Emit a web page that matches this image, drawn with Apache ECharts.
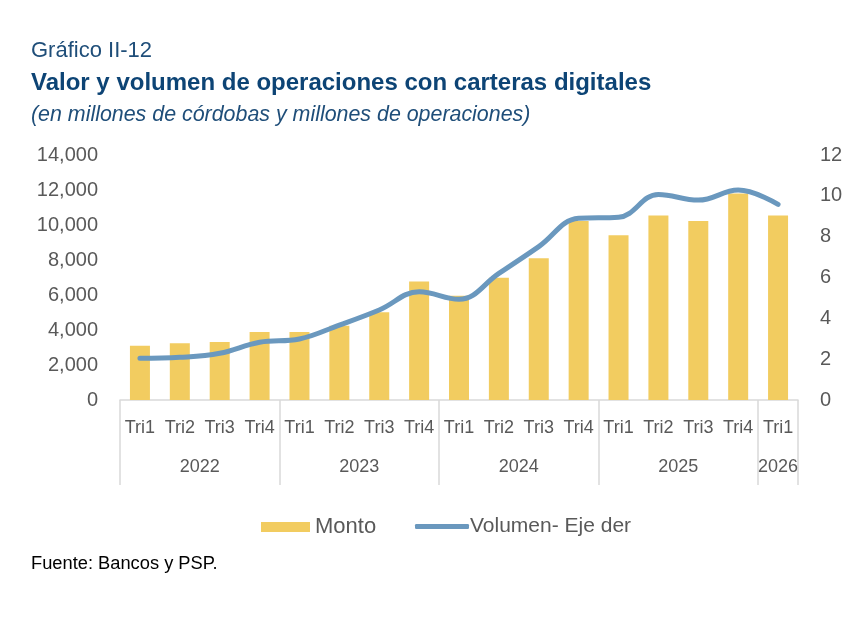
<!DOCTYPE html>
<html lang="es">
<head>
<meta charset="UTF-8">
<title>Valor y volumen de operaciones con carteras digitales</title>
<script src="https://cdn.jsdelivr.net/npm/echarts@6/dist/echarts.min.js"></script>
</head>
<body style="margin:0;background:#ffffff;">
<div id="main" style="width:862px;height:618px;"></div>
<script>
var quarters = ['Tri1','Tri2','Tri3','Tri4','Tri1','Tri2','Tri3','Tri4','Tri1','Tri2','Tri3','Tri4','Tri1','Tri2','Tri3','Tri4','Tri1'];
var years = ['2022','2023','2024','2025','2026'];
var quartersPerYear = [4, 4, 4, 4, 1];
// Monto: millones de córdobas (eje izquierdo)
var monto = [3100, 3250, 3320, 3880, 3880, 4250, 5020, 6770, 5960, 6980, 8100, 10230, 9420, 10540, 10230, 11800, 10540];
// Volumen: millones de operaciones (eje derecho)
var volumen = [2.04, 2.09, 2.29, 2.83, 2.99, 3.67, 4.41, 5.30, 4.93, 6.20, 7.51, 8.90, 8.95, 10.07, 9.79, 10.28, 9.58];

// year row: half-category slots so labels sit in the middle of each group
var yearSlots = [];
var sepSlots = [];
for (var i = 0; i <= quarters.length * 2; i++) yearSlots.push('');
var start = 0;
for (var y = 0; y < years.length; y++) {
    sepSlots.push(start * 2);
    yearSlots[start * 2 + quartersPerYear[y]] = years[y];
    start += quartersPerYear[y];
}
sepSlots.push(start * 2);

var gray = '#595959';
var lineGray = '#D9D9D9';
var barColor = '#F2CC60';
var lineColor = '#6A98BE';
var chart = echarts.init(document.getElementById('main'));

var option = {
    backgroundColor: '#ffffff',
    animation: false,
    title: [
        {
            text: 'Gráfico II-12', left: 26, top: 35,
            textStyle: { fontFamily: 'Liberation Sans', fontSize: 22, fontWeight: 'normal', color: '#1F4E79' }
        },
        {
            text: 'Valor y volumen de operaciones con carteras digitales', left: 26, top: 66,
            textStyle: { fontFamily: 'Liberation Sans', fontSize: 24, fontWeight: 'bold', color: '#0D4475' }
        },
        {
            text: '(en millones de córdobas y millones de operaciones)', left: 26, top: 100,
            textStyle: { fontFamily: 'Liberation Sans', fontSize: 21.4, fontWeight: 'normal', fontStyle: 'italic', color: '#1F4E79' }
        },
        {
            text: 'Fuente: Bancos y PSP.', left: 26, top: 550,
            textStyle: { fontFamily: 'Liberation Sans', fontSize: 18.3, fontWeight: 'normal', color: '#000000' }
        }
    ],
    legend: [
        {
            left: 256, top: 511,
            itemWidth: 49, itemHeight: 10,
            textStyle: { fontFamily: 'Liberation Sans', fontSize: 22, color: gray },
            data: [{ name: 'Monto', icon: 'rect' }]
        },
        {
            left: 410, top: 511,
            itemWidth: 54, itemHeight: 5,
            textStyle: { fontFamily: 'Liberation Sans', fontSize: 21, color: gray, padding: [0, 0, 0, -4] },
            data: [{ name: 'Volumen- Eje der', icon: 'roundRect' }]
        }
    ],
    grid: { left: 120, right: 64, top: 155, bottom: 218 },
    xAxis: [
        {
            type: 'category',
            data: quarters,
            boundaryGap: true,
            axisLine: { lineStyle: { color: lineGray, width: 1.5 } },
            axisTick: { show: false },
            axisLabel: { interval: 0, margin: 19, fontFamily: 'Liberation Sans', fontSize: 18, color: gray }
        },
        {
            type: 'category',
            data: yearSlots,
            boundaryGap: false,
            position: 'bottom',
            axisLine: { show: false },
            axisTick: {
                show: true,
                length: 85,
                interval: function (index) { return sepSlots.indexOf(index) >= 0; },
                lineStyle: { color: lineGray, width: 1.5 }
            },
            axisLabel: { interval: 0, margin: 58, fontFamily: 'Liberation Sans', fontSize: 18, color: gray }
        }
    ],
    yAxis: [
        {
            type: 'value', min: 0, max: 14000, interval: 2000,
            splitLine: { show: false },
            axisLine: { show: false }, axisTick: { show: false },
            axisLabel: {
                margin: 22, fontFamily: 'Liberation Sans', fontSize: 20, color: gray,
                formatter: function (v) { return v.toLocaleString('en-US'); }
            }
        },
        {
            type: 'value', min: 0, max: 12, interval: 2,
            splitLine: { show: false },
            axisLine: { show: false }, axisTick: { show: false },
            axisLabel: { margin: 22, fontFamily: 'Liberation Sans', fontSize: 20, color: gray }
        }
    ],
    series: [
        {
            name: 'Monto',
            type: 'bar',
            xAxisIndex: 0, yAxisIndex: 0,
            data: monto,
            barWidth: 20,
            itemStyle: { color: barColor }
        },
        {
            name: 'Volumen- Eje der',
            type: 'line',
            xAxisIndex: 0, yAxisIndex: 1,
            data: volumen,
            smooth: 0.4,
            symbol: 'none',
            z: 3,
            lineStyle: { color: lineColor, width: 5, cap: 'round' },
            itemStyle: { color: lineColor }
        }
    ]
};

chart.setOption(option);
window.onresize = function () {
    chart.resize();
};
</script>
</body>
</html>
